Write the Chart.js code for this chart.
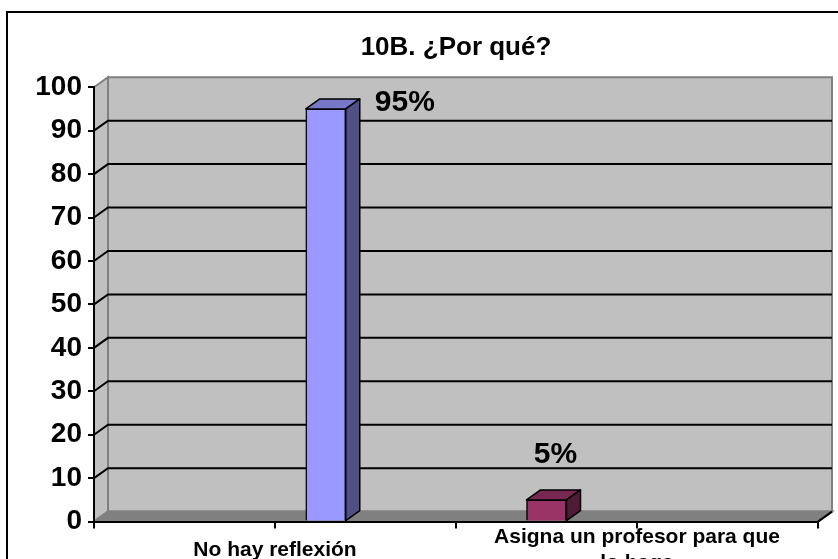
<!DOCTYPE html>
<html>
<head>
<meta charset="utf-8">
<title>10B. ¿Por qué?</title>
<script src="https://cdn.jsdelivr.net/npm/chart.js@4.4.1/dist/chart.umd.min.js"></script>
<style>
  html, body { margin: 0; padding: 0; background: #fff; overflow: hidden; }
  #frame { position: absolute; left: 6px; top: 11px; width: 900px; height: 700px; border: 2px solid #000; }
  #box { position: absolute; left: 0; top: 0; width: 838px; height: 597px; }
</style>
</head>
<body>
<div id="frame"></div>
<div id="box"><canvas id="chart10b"></canvas></div>
<script>
// datos del grafico
var titulo = "10B. ¿Por qué?";
var categorias = ["No hay reflexión", ["Asigna un profesor para que", "lo haga"]];
var porcentajes = [95, 5];
var colores = ["#9999FF", "#993366"];
var ejeMin = 0, ejeMax = 100, ejePaso = 10;

var FUENTE = '"Liberation Sans", Arial, sans-serif';
var DX = 14, DY = -10;   // profundidad del efecto 3D

function oscurecer(hex, f) {
    var n = parseInt(hex.slice(1), 16);
    var r = Math.round(((n >> 16) & 255) * f);
    var g = Math.round(((n >> 8) & 255) * f);
    var b = Math.round((n & 255) * f);
    return 'rgb(' + r + ',' + g + ',' + b + ')';
}

function poligono(ctx, pts) {
    ctx.beginPath();
    ctx.moveTo(pts[0][0], pts[0][1]);
    for (var i = 1; i < pts.length; i++) ctx.lineTo(pts[i][0], pts[i][1]);
    ctx.closePath();
}

// paredes, suelo y lineas de division al estilo Excel 3D
var caja3d = {
    id: 'caja3d',
    beforeDraw: function (chart) {
        var ctx = chart.ctx, a = chart.chartArea, y = chart.scales.y;
        ctx.save();
        ctx.lineWidth = 2;
        ctx.strokeStyle = '#808080';
        ctx.fillStyle = '#C0C0C0';
        // pared izquierda
        poligono(ctx, [[a.left, a.top], [a.left + DX, a.top + DY], [a.left + DX, a.bottom + DY], [a.left, a.bottom]]);
        ctx.fill(); ctx.stroke();
        // pared del fondo
        ctx.beginPath();
        ctx.rect(a.left + DX, a.top + DY, a.right - a.left, a.bottom - a.top);
        ctx.fill(); ctx.stroke();
        // suelo
        ctx.fillStyle = '#808080';
        poligono(ctx, [[a.left, a.bottom], [a.right, a.bottom], [a.right + DX, a.bottom + DY], [a.left + DX, a.bottom + DY]]);
        ctx.fill(); ctx.stroke();
        // lineas de division
        ctx.strokeStyle = '#000';
        y.ticks.forEach(function (t) {
            if (t.value <= y.min || t.value >= y.max) return;
            var py = y.getPixelForValue(t.value);
            ctx.beginPath();
            ctx.moveTo(a.left, py);
            ctx.lineTo(a.left + DX, py + DY);
            ctx.lineTo(a.right + DX, py + DY);
            ctx.stroke();
        });
        ctx.restore();
    },
    afterDatasetsDraw: function (chart) {
        var ctx = chart.ctx, a = chart.chartArea, x = chart.scales.x;
        ctx.save();
        ctx.strokeStyle = '#000';
        ctx.lineWidth = 2;
        // borde derecho del suelo
        ctx.beginPath();
        ctx.moveTo(a.right, a.bottom);
        ctx.lineTo(a.right + DX, a.bottom + DY);
        ctx.stroke();
        // marcas en el centro de cada categoria
        categorias.forEach(function (c, i) {
            var px = x.getPixelForValue(i);
            ctx.beginPath();
            ctx.moveTo(px, a.bottom);
            ctx.lineTo(px, a.bottom + 7);
            ctx.stroke();
        });

        // caras superior y lateral de las barras + etiquetas
        ctx.lineWidth = 1.5;
        ctx.lineJoin = 'round';
        chart.getDatasetMeta(0).data.forEach(function (bar, i) {
            var p = bar.getProps(['x', 'y', 'base', 'width'], true);
            var l = p.x - p.width / 2, r = p.x + p.width / 2;
            ctx.fillStyle = oscurecer(colores[i], 0.78);
            poligono(ctx, [[l, p.y], [r, p.y], [r + DX, p.y + DY], [l + DX, p.y + DY]]);
            ctx.fill(); ctx.stroke();
            ctx.fillStyle = oscurecer(colores[i], 0.52);
            poligono(ctx, [[r, p.y], [r + DX, p.y + DY], [r + DX, p.base + DY], [r, p.base]]);
            ctx.fill(); ctx.stroke();

            var txt = porcentajes[i] + '%';
            ctx.font = 'bold 30px ' + FUENTE;
            ctx.fillStyle = '#000';
            ctx.textBaseline = 'alphabetic';
            var arriba = p.y - 37;
            if (arriba - 22 < a.top) {
                ctx.textAlign = 'left';
                ctx.fillText(txt, r + DX + 15, p.y + 2);
            } else {
                ctx.textAlign = 'center';
                ctx.fillText(txt, p.x + DX / 2 + 2, arriba);
            }
        });
        ctx.restore();
    }
};

new Chart("chart10b", {
    type: 'bar',
    data: {
        labels: categorias,
        datasets: [{
            label: titulo,
            data: porcentajes.map(function (v, i) { return { x: i, y: v }; }),
            xAxisID: 'xb',
            yAxisID: 'y',
            backgroundColor: colores,
            borderColor: '#000',
            borderWidth: 1.5,
            barThickness: 40
        }]
    },
    options: {
        responsive: true,
        maintainAspectRatio: false,
        animation: false,
        layout: { padding: { left: 0, right: 20, top: 0, bottom: 0 } },
        plugins: {
            legend: { display: false },
            tooltip: { enabled: false },
            title: {
                display: true,
                text: titulo,
                color: '#000',
                fullSize: false,
                font: { family: FUENTE, size: 26, weight: 'bold' },
                padding: { top: 32, bottom: 24 }
            }
        },
        scales: {
            x: {
                type: 'category',
                offset: true,
                grid: { offset: true, drawOnChartArea: false, drawTicks: true, tickLength: 7, color: '#000', lineWidth: 2 },
                border: { display: true, color: '#000', width: 2 },
                ticks: {
                    color: '#000',
                    maxRotation: 0,
                    autoSkip: false,
                    crossAlign: 'center',
                    padding: 9,
                    font: { family: FUENTE, size: 21, weight: 'bold', lineHeight: 1.2 }
                }
            },
            // las barras quedan al fondo de la caja 3D, mas cerca del centro
            xb: {
                type: 'linear',
                display: false,
                offset: false,
                min: -1.05,
                max: 2.23
            },
            y: {
                min: ejeMin,
                max: ejeMax,
                afterFit: function (s) { s.width = 94; },
                grid: { drawOnChartArea: false, drawTicks: true, tickLength: 6, color: '#000', lineWidth: 2 },
                border: { display: true, color: '#000', width: 2 },
                ticks: {
                    stepSize: ejePaso,
                    color: '#000',
                    padding: 6,
                    font: { family: FUENTE, size: 28, weight: 'bold' }
                }
            }
        }
    },
    plugins: [caja3d]
});
</script>
</body>
</html>
